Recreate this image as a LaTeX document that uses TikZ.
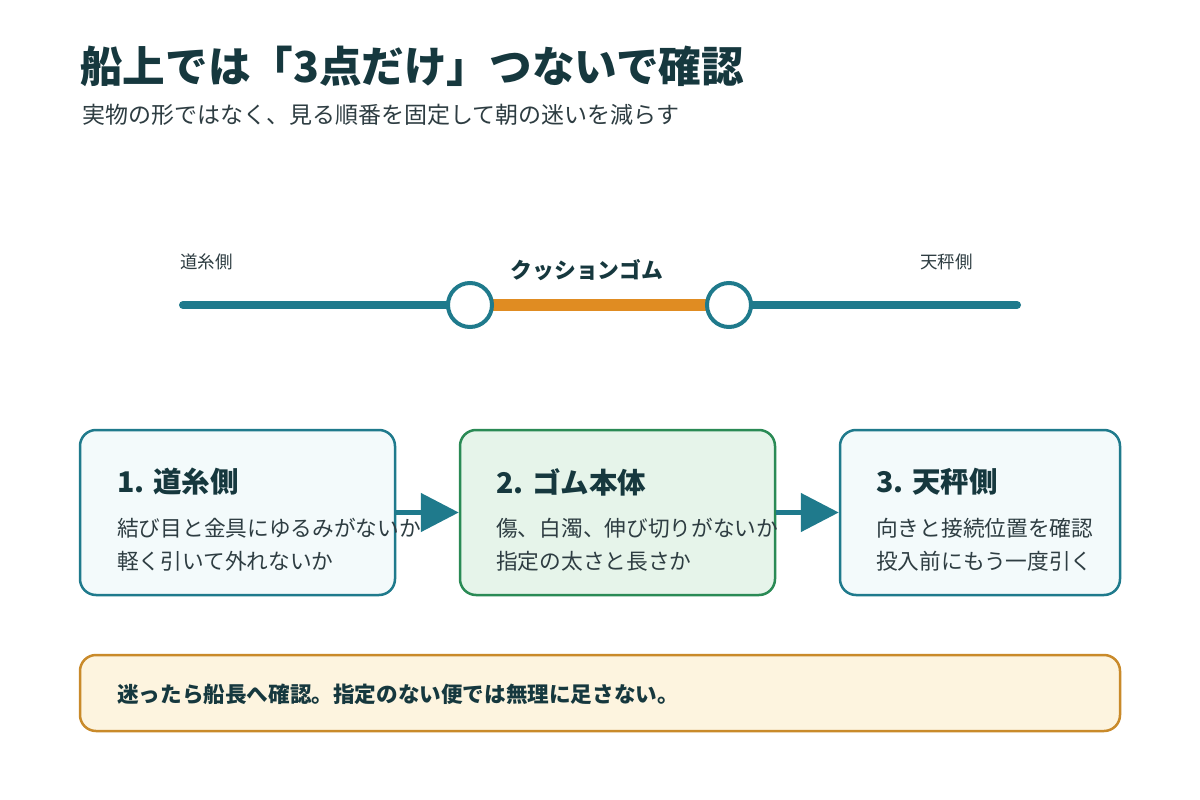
\documentclass[tikz,border=0pt]{standalone}
\usepackage{fontspec}
\usetikzlibrary{arrows.meta}
\setmainfont{Noto Sans CJK JP}[BoldFont={Noto Sans CJK JP Black}]
\definecolor{ink}{HTML}{16383E}
\definecolor{body}{HTML}{2E3D42}
\definecolor{teal}{HTML}{1F7A8C}
\definecolor{orng}{HTML}{E08C22}
\definecolor{bluefill}{HTML}{F3FAFB}
\definecolor{greenfill}{HTML}{E6F4EA}
\definecolor{greenline}{HTML}{2A8A55}
\definecolor{notefill}{HTML}{FDF4DF}
\definecolor{noteline}{HTML}{C98A2A}
\tikzset{
  card/.style={draw=teal, line width=2.5pt, fill=bluefill, rounded corners=16pt, inner sep=0pt},
  cardtitle/.style={anchor=west, inner sep=0pt, text=ink, font=\fontsize{28.5}{34}\selectfont\bfseries},
  cardline/.style={anchor=west, inner sep=0pt, text=body, font=\fontsize{21.7}{26}\selectfont},
  flow/.style={draw=teal, line width=5pt, -{Triangle[length=38pt,width=38pt]}},
  knot/.style={circle, draw=teal, line width=4pt, fill=white, minimum size=44pt, inner sep=0pt},
  side/.style={anchor=west, inner sep=0pt, text=body, font=\fontsize{17.5}{21}\selectfont},
}
\begin{document}
\begin{tikzpicture}[x=1pt,y=-1pt]
\useasboundingbox[fill=white] (0,0) rectangle (1200,800);
% title
\node[anchor=west, inner sep=0pt, text=ink, font=\fontsize{42.6}{50}\selectfont\bfseries] (title) at (80,66) {船上では「3点だけ」つないで確認};
\node[anchor=west, inner sep=0pt, text=body, font=\fontsize{23}{27}\selectfont] (sub) at (82,115) {実物の形ではなく、見る順番を固定して朝の迷いを減らす};
% timeline
\coordinate (lend) at (183,305);
\coordinate (rend) at (1017,305);
\coordinate (p1) at (470,305);
\coordinate (p2) at (729,305);
\draw[teal, line width=8pt, line cap=round] (lend) -- (p1);
\draw[teal, line width=8pt, line cap=round] (p2) -- (rend);
\draw[orng, line width=12pt] (p1) -- (p2);
\node[knot] (k1) at (p1) {};
\node[knot] (k2) at (p2) {};
\node[side] (lside) at (180,262) {道糸側};
\node[side] (rside) at (920,262) {天秤側};
\node[inner sep=0pt, text=ink, font=\fontsize{21.8}{26}\selectfont\bfseries] (cush) at (587,270) {クッションゴム};
% cards
\node[card, minimum width=315pt, minimum height=165pt] (b1) at (237.5,512.5) {};
\node[card, draw=greenline, fill=greenfill, minimum width=315pt, minimum height=165pt] (b2) at (617.5,512.5) {};
\node[card, minimum width=280pt, minimum height=165pt] (b3) at (980,512.5) {};
\draw[flow] (b1.east) -- (b2.west);
\draw[flow] (b2.east) -- (b3.west);
\node[cardtitle] (t1) at (117,482) {1. 道糸側};
\node[cardline] (l1a) at (117,528) {結び目と金具にゆるみがないか};
\node[cardline] (l1b) at (117,561) {軽く引いて外れないか};
\node[cardtitle] (t2) at (496,482) {2. ゴム本体};
\node[cardline] (l2a) at (496,528) {傷、白濁、伸び切りがないか};
\node[cardline] (l2b) at (496,561) {指定の太さと長さか};
\node[cardtitle] (t3) at (876,482) {3. 天秤側};
\node[cardline] (l3a) at (876,528) {向きと接続位置を確認};
\node[cardline] (l3b) at (876,561) {投入前にもう一度引く};
% note
\node[draw=noteline, line width=2.5pt, fill=notefill, rounded corners=16pt, minimum width=1040pt, minimum height=76pt, inner sep=0pt] (note) at (600,693) {};
\node[anchor=west, inner sep=0pt, text=ink, font=\fontsize{21.6}{26}\selectfont\bfseries] (notetext) at (117,694) {迷ったら船長へ確認。指定のない便では無理に足さない。};
\end{tikzpicture}
\end{document}
